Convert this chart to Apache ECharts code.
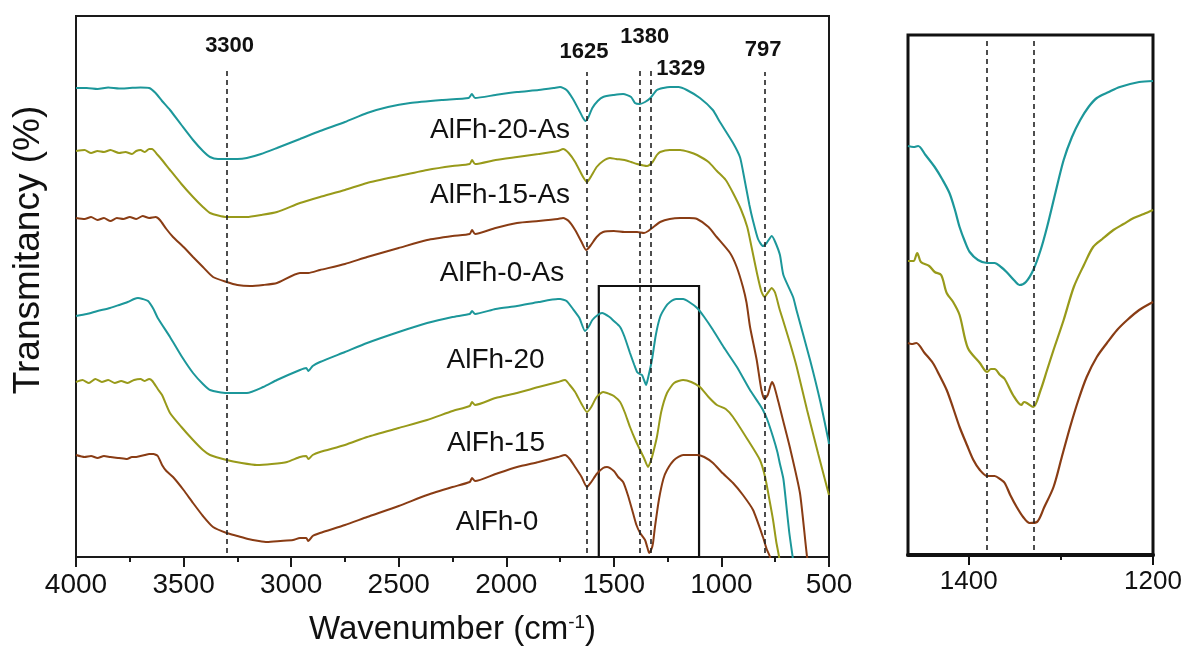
<!DOCTYPE html>
<html><head><meta charset="utf-8">
<script src="https://cdn.jsdelivr.net/npm/echarts@6/dist/echarts.min.js"></script>
<style>html,body{margin:0;padding:0;background:#fff}#c{width:1185px;height:655px}</style>
</head><body><div id="c"></div>
<script>
// ---------- DATA (wavenumber cm-1, transmittance a.u.) ----------
const seriesNames = ['AlFh-20-As','AlFh-15-As','AlFh-0-As','AlFh-20','AlFh-15','AlFh-0'];

const AlFh_20_As = [[4000,469],[3950,469],[3900,468],[3850,469.5],[3800,468.5],[3750,469],[3700,469.5],[3660,469],[3630,464],[3600,456],[3563,447],[3510,432],[3456,417],[3410,406],[3377,400],[3340,398],[3300,398],[3250,398],[3206,399],[3140,403],[3066,409],[2959,418],[2866,426],[2750,435],[2647,444],[2550,450],[2447,454],[2300,457],[2175,459],[2160,463],[2145,459],[2050,462],[1950,465],[1850,467],[1780,469],[1750,470],[1720,467],[1690,458],[1660,446],[1643,439],[1632,436],[1620,439],[1600,449],[1575,456],[1550,460],[1500,462],[1457,463],[1420,460],[1402,454],[1380,453],[1355,455],[1330,459],[1300,467],[1270,469],[1239,470],[1200,470],[1161,467],[1100,459],[1040,447],[1007,435],[946,414],[914,400],[900,386],[870,352],[853,336],[830,318],[807,311],[790,314],[766,321],[750,315],[728,302],[712,282],[667,260],[650,246],[588,197],[540,155],[503,117],[500,113]];

const AlFh_15_As = [[4000,406],[3960,407],[3930,404],[3900,406],[3870,405],[3840,407],[3800,404],[3770,405],[3740,403],[3720,406],[3700,407],[3680,405],[3660,408],[3647,408],[3620,402],[3600,397],[3563,387],[3510,373],[3456,360],[3410,350],[3377,344],[3300,340],[3206,340],[3140,342],[3066,345],[2959,354],[2866,360],[2750,367],[2647,374],[2500,381],[2368,387],[2250,391],[2170,393],[2159,397],[2145,393],[2050,397],[1950,400],[1850,403],[1760,406],[1736,408],[1710,404],[1680,395],[1643,380],[1625,375],[1605,381],[1580,390],[1550,396],[1518,399],[1490,398],[1450,397],[1420,395],[1392,393],[1346,391],[1320,395],[1300,402],[1285,405],[1240,407],[1192,407],[1150,405],[1113,402],[1060,395],[1021,386],[980,377],[946,364],[910,348],[880,330],[860,310],[835,284],[815,266],[800,260],[785,264],[766,269],[750,264],[730,248],[714,237],[680,213],[650,190],[602,147],[550,103],[505,66],[500,62]];

const AlFh_0_As = [[4000,339],[3960,338],[3930,340],[3900,337],[3870,339],[3840,336],[3810,339],[3780,338],[3750,340],[3720,338],[3690,341],[3660,339],[3630,340],[3610,337],[3580,328],[3549,320],[3500,310],[3456,300],[3410,290],[3363,280],[3300,275],[3250,272],[3191,271],[3130,272],[3066,274],[2959,284],[2920,284],[2866,287],[2750,293],[2647,300],[2500,309],[2368,317],[2250,321],[2170,323],[2159,327],[2145,323],[2050,329],[1950,334],[1850,336],[1760,338],[1736,339],[1710,336],[1680,327],[1650,315],[1629,307],[1610,311],[1580,320],[1550,325],[1500,326],[1450,325],[1392,325],[1360,324],[1340,326],[1310,331],[1285,335],[1240,338],[1192,339],[1150,339],[1113,338],[1060,330],[1022,320],[960,304],[929,290],[900,270],[883,254],[867,230],[836,197],[815,168],[800,158],[785,162],[765,175],[755,171],[735,155],[714,137],[680,108],[635,64],[602,0],[580,-30]];

const AlFh_20 = [[4000,241],[3950,243],[3900,246],[3842,249],[3800,252],[3760,255],[3730,258],[3712,259],[3690,258],[3665,256],[3640,248],[3620,239],[3563,220],[3510,201],[3456,184],[3410,173],[3377,167],[3300,164],[3206,164],[3130,170],[3066,177],[2959,187],[2930,189],[2920,186],[2900,191],[2866,195],[2750,205],[2647,214],[2500,225],[2368,234],[2250,240],[2170,243],[2159,246],[2145,243],[2050,248],[1950,251],[1850,255],[1760,258],[1750,258],[1720,256],[1690,248],[1660,239],[1634,226],[1615,231],[1600,237],[1575,242],[1555,244],[1520,240],[1500,236],[1471,230],[1450,220],[1425,204],[1405,192],[1392,185],[1380,183],[1369,182],[1358,176],[1350,172],[1340,180],[1323,197],[1305,222],[1285,240],[1260,250],[1239,255],[1210,258],[1178,258],[1150,255],[1113,249],[1080,240],[1039,227],[990,210],[928,190],[870,168],[821,152],[807,147],[788,138],[760,120],[740,105],[728,93],[712,78],[700,55],[685,25],[669,0],[650,-30]];

const AlFh_15 = [[4000,175],[3970,177],[3940,174],[3910,178],[3880,175],[3850,177],[3820,174],[3790,176],[3760,174],[3730,177],[3700,178],[3680,176],[3660,178],[3645,176],[3620,168],[3600,162],[3563,144],[3510,130],[3456,117],[3410,107],[3377,102],[3300,97],[3230,94],[3159,92],[3090,93],[3019,95],[2959,100],[2930,101],[2920,98],[2900,102],[2866,105],[2750,112],[2647,120],[2500,129],[2368,137],[2250,146],[2170,151],[2159,155],[2145,152],[2050,159],[1950,164],[1850,170],[1760,175],[1727,177],[1705,172],[1680,165],[1650,153],[1625,145],[1605,150],[1580,160],[1550,165],[1520,163],[1500,161],[1471,155],[1450,145],[1425,130],[1400,117],[1378,107],[1360,99],[1341,90],[1330,95],[1320,102],[1300,120],[1280,145],[1253,164],[1220,174],[1178,177],[1140,175],[1100,170],[1060,160],[1021,152],[980,148],[946,140],[880,118],[821,97],[797,80],[775,55],[760,37],[745,15],[732,0],[715,-30]];

const AlFh_0 = [[4000,102],[3960,100],[3930,101],[3900,99],[3870,101],[3840,100],[3800,99],[3763,98],[3740,100],[3720,100],[3700,101],[3680,102],[3660,103],[3640,103],[3620,101],[3600,92],[3580,86],[3549,80],[3500,67],[3456,54],[3410,41],[3363,30],[3300,24],[3250,21],[3200,18],[3150,16],[3112,15],[3050,16],[2991,17],[2959,19],[2930,19],[2920,16],[2900,21],[2866,24],[2750,32],[2647,40],[2500,51],[2368,62],[2250,70],[2170,75],[2159,79],[2145,76],[2050,83],[1950,90],[1850,95],[1760,100],[1727,102],[1705,98],[1680,90],[1650,80],[1625,70],[1605,75],[1580,83],[1550,89],[1532,90],[1500,86],[1480,80],[1457,75],[1435,62],[1411,44],[1395,32],[1378,24],[1355,17],[1345,10],[1336,4],[1325,8],[1318,14],[1309,30],[1290,58],[1270,78],[1253,87],[1220,97],[1178,102],[1113,102],[1080,100],[1039,94],[1000,85],[946,74],[900,62],[853,47],[807,20],[790,8],[774,0],[750,-30]];

// inset (1466-1200 cm-1), magnified
const inset_AlFh_20 = [[1466,409],[1460,408],[1455,409],[1447,400],[1437,388],[1429,376],[1421,362],[1415,345],[1410,328],[1404,313],[1399,303],[1390,295],[1380,292],[1372,292],[1365,288],[1359,283],[1350,274],[1345,270],[1338,273],[1330,285],[1322,305],[1315,328],[1306,362],[1297,395],[1288,418],[1279,435],[1270,448],[1261,457],[1248,463],[1236,468],[1215,473],[1200,474]];
const inset_AlFh_15 = [[1466,294],[1460,294],[1456,302],[1452,293],[1443,289],[1437,283],[1430,280],[1424,262],[1417,253],[1410,240],[1401,207],[1388,192],[1380,183],[1376,186],[1372,186],[1366,180],[1361,176],[1352,160],[1343,150],[1340,153],[1337,152],[1330,148],[1322,165],[1315,185],[1308,205],[1297,235],[1286,268],[1275,290],[1265,308],[1255,316],[1243,325],[1232,331],[1221,337],[1210,341],[1200,345]];
const inset_AlFh_0 = [[1466,212],[1462,211],[1457,212],[1448,202],[1439,192],[1432,180],[1424,165],[1417,147],[1410,128],[1402,110],[1395,95],[1388,85],[1380,79],[1372,79],[1366,76],[1361,72],[1355,60],[1348,48],[1341,38],[1334,32],[1326,33],[1318,48],[1308,68],[1299,98],[1290,128],[1281,155],[1272,178],[1261,198],[1250,212],[1239,225],[1228,235],[1215,245],[1200,253]];

const peakPositions = [3300, 1625, 1380, 1329, 797];
const peakLabels = ['3300', '1625', '1380', '1329', '797'];
const insetPeaks = [1380, 1329];
const insetTickValues = [1200, 1400];

// ---------- STYLE / LAYOUT ----------
const colors = ['#1c979a', '#989a1a', '#893c14', '#1c979a', '#989a1a', '#893c14'];
const FONT = '"Liberation Sans", Arial, Helvetica, sans-serif';
const TXT = '#111111';
const mainData = [AlFh_20_As, AlFh_15_As, AlFh_0_As, AlFh_20, AlFh_15, AlFh_0];
const insetData = [inset_AlFh_20, inset_AlFh_15, inset_AlFh_0];
const insetColors = [colors[3], colors[4], colors[5]];
// label anchors [wavenumber, y] for sample names
const nameAnchors = [[2029,427],[2029,362],[2020,284],[2050,197],[2048,114],[2043,35]];
const peakTop = [489, 485, 489, 489, 485];
const peakOffset = [[3,-22],[-3,-20],[5,-31],[30,1],[-2,-22]];

const series = [];
mainData.forEach((d, i) => {
  series.push({
    name: seriesNames[i], type: 'line', xAxisIndex: 0, yAxisIndex: 0,
    data: d, showSymbol: false, symbol: 'none', smooth: 0.2,
    lineStyle: { color: colors[i], width: 2 }, z: 3
  });
});
insetData.forEach((d, i) => {
  series.push({
    name: 'inset-' + seriesNames[i + 3], type: 'line', xAxisIndex: 1, yAxisIndex: 1,
    data: d, showSymbol: false, symbol: 'none', smooth: 0.3,
    lineStyle: { color: insetColors[i], width: 2.2 }, z: 3
  });
});
const hiddenItem = { color: 'rgba(0,0,0,0)', opacity: 1 };
// peak labels + dashed lines (main)
series.push({
  type: 'scatter', xAxisIndex: 0, yAxisIndex: 0, symbolSize: 1,
  itemStyle: hiddenItem, silent: true, emphasis: { disabled: true },
  data: peakPositions.map((p, i) => ({ value: [p, peakTop[i]], name: peakLabels[i], label: { offset: peakOffset[i] } })),
  label: { show: true, position: 'inside', formatter: p => p.name, fontSize: 22, fontWeight: 'bold', color: TXT, opacity: 1, fontFamily: FONT },
  markLine: {
    silent: true, symbol: ['none', 'none'], animation: false,
    label: { show: false },
    lineStyle: { type: [5, 4], color: '#222', width: 1.6, opacity: 1 },
    data: peakPositions.map((p, i) => [{ coord: [p, 4] }, { coord: [p, peakTop[i]] }])
  },
  z: 4
});
// sample names + zoom rectangle
series.push({
  type: 'scatter', xAxisIndex: 0, yAxisIndex: 0, symbolSize: 1,
  itemStyle: hiddenItem, silent: true, emphasis: { disabled: true },
  data: nameAnchors.map((a, i) => ({ value: a, name: seriesNames[i] })),
  label: { show: true, position: 'inside', formatter: p => p.name, fontSize: 28, color: TXT, opacity: 1, fontFamily: FONT },
  markArea: {
    silent: true,
    itemStyle: { color: 'rgba(0,0,0,0)', borderColor: '#111', borderWidth: 2.2, opacity: 1 },
    data: [[{ coord: [1570, 0] }, { coord: [1104, 271] }]]
  },
  z: 4
});
// inset dashed lines
series.push({
  type: 'scatter', xAxisIndex: 1, yAxisIndex: 1, symbolSize: 0, data: [],
  markLine: {
    silent: true, symbol: ['none', 'none'], animation: false,
    label: { show: false },
    lineStyle: { type: [5, 4], color: '#222', width: 1.6, opacity: 1 },
    data: insetPeaks.map(p => [{ coord: [p, 5] }, { coord: [p, 515] }])
  }
});

const option = {
  animation: false,
  backgroundColor: '#fff',
  grid: [
    { left: 76, top: 16, width: 753, height: 541, show: true, borderColor: '#1a1a1a', borderWidth: 2, backgroundColor: 'transparent' },
    { left: 908, top: 35, width: 245, height: 520, show: true, borderColor: '#111', borderWidth: 3, backgroundColor: 'transparent' }
  ],
  xAxis: [
    {
      gridIndex: 0, type: 'value', min: 500, max: 4000, interval: 500, inverse: true,
      axisLine: { show: true, lineStyle: { color: '#1a1a1a', width: 2 } },
      axisTick: { show: true, length: 10, lineStyle: { color: '#1a1a1a', width: 2 } },
      minorTick: { show: true, splitNumber: 2, length: 5, lineStyle: { color: '#1a1a1a', width: 2 } },
      axisLabel: { fontSize: 28, color: TXT, margin: 14, fontFamily: FONT, formatter: v => String(v) },
      splitLine: { show: false },
      name: 'Wavenumber (cm{sup|-1})', nameLocation: 'middle', nameGap: 56,
      nameTextStyle: { fontSize: 33, color: TXT, fontFamily: FONT,
        rich: { sup: { fontSize: 19, verticalAlign: 'top', color: TXT, fontFamily: FONT } } }
    },
    {
      gridIndex: 1, type: 'value', min: 1200, max: 1466, interval: 200, inverse: true,
      axisLine: { show: true, lineStyle: { color: '#111', width: 4 } },
      axisTick: { show: true, length: 10, customValues: insetTickValues, lineStyle: { color: '#111', width: 2 } },
      minorTick: { show: true, splitNumber: 2, length: 5, lineStyle: { color: '#111', width: 2 } },
      axisLabel: { customValues: insetTickValues, fontSize: 26, color: TXT, margin: 14, fontFamily: FONT, formatter: v => String(v) },
      splitLine: { show: false }
    }
  ],
  yAxis: [
    { gridIndex: 0, type: 'value', min: 0, max: 541, show: false },
    { gridIndex: 1, type: 'value', min: 0, max: 520, show: false }
  ],
  graphic: [{
    type: 'text', x: 29, y: 250, rotation: Math.PI / 2,
    style: { text: 'Transmitancy (%)', fontSize: 37, fontFamily: FONT, fill: TXT, align: 'center', verticalAlign: 'middle' }
  }],
  series: series
};
const chart = echarts.init(document.getElementById('c'), null, { renderer: 'canvas' });
chart.setOption(option);
</script>
</body></html>
